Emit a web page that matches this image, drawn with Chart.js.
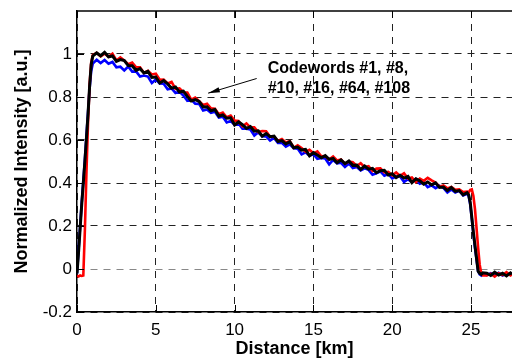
<!DOCTYPE html>
<html>
<head>
<meta charset="utf-8">
<script src="https://cdn.jsdelivr.net/npm/chart.js@4/dist/chart.umd.min.js"></script>
<style>
html,body{margin:0;padding:0;background:#fff;}
#wrap{width:512px;height:360px;}
</style>
</head>
<body>
<div id="wrap"><canvas id="c" width="512" height="360"></canvas></div>
<script>
// ---- data ----
const distanceKm = [0,0.1,0.2,0.3,0.4,0.5,0.6,0.7,0.8,0.9,1.0,
1.25,1.5,1.75,2,2.25,2.5,2.75,3,3.25,3.5,3.75,4,4.25,4.5,4.75,5,5.25,5.5,5.75,6,6.25,6.5,6.75,7,7.25,7.5,7.75,8,8.25,8.5,8.75,9,9.25,9.5,9.75,10,10.25,10.5,10.75,11,11.25,11.5,11.75,12,12.25,12.5,12.75,13,13.25,13.5,13.75,14,14.25,14.5,14.75,15,15.25,15.5,15.75,16,16.25,16.5,16.75,17,17.25,17.5,17.75,18,18.25,18.5,18.75,19,19.25,19.5,19.75,20,20.25,20.5,20.75,21,21.25,21.5,21.75,22,22.25,22.5,22.75,23,23.25,23.5,23.75,24,24.25,24.5,24.75,
24.85,24.95,25.05,25.15,25.25,25.35,25.45,25.55,25.65,25.75,
26,26.25,26.5,26.75,27,27.25,27.5,27.6];

const intensityBlack = [-0.02,0.08,0.19,0.30,0.40,0.50,0.61,0.72,0.85,0.95,0.99,
1.005,0.992,1.008,0.987,0.991,0.966,0.974,0.969,0.946,0.945,0.924,0.932,0.912,0.919,0.891,0.893,0.865,0.876,0.861,0.841,0.847,0.823,0.827,0.803,0.781,0.788,0.779,0.754,0.755,0.736,0.742,0.711,0.717,0.701,0.703,0.670,0.684,0.671,0.654,0.662,0.641,0.643,0.618,0.630,0.615,0.618,0.593,0.597,0.582,0.592,0.564,0.567,0.553,0.556,0.527,0.541,0.530,0.517,0.527,0.510,0.514,0.494,0.507,0.490,0.502,0.482,0.483,0.463,0.479,0.464,0.468,0.448,0.457,0.459,0.437,0.443,0.425,0.436,0.423,0.431,0.402,0.419,0.410,0.395,0.405,0.391,0.401,0.379,0.381,0.365,0.379,0.361,0.365,0.345,0.355,
0.345,0.31,0.24,0.17,0.11,0.05,-0.01,-0.02,-0.025,-0.018,
-0.02,-0.03,-0.015,-0.028,-0.02,-0.032,-0.018,-0.025];

const intensityRed = [-0.03,-0.035,-0.03,-0.032,-0.03,0.18,0.45,0.68,0.86,0.96,0.995,
1.005,0.989,1.002,0.987,1.001,0.970,0.984,0.970,0.953,0.960,0.938,0.938,0.912,0.922,0.905,0.908,0.880,0.881,0.863,0.870,0.838,0.840,0.822,0.821,0.788,0.797,0.781,0.763,0.769,0.747,0.745,0.720,0.728,0.706,0.714,0.690,0.688,0.664,0.677,0.659,0.659,0.637,0.642,0.641,0.615,0.617,0.596,0.605,0.589,0.595,0.564,0.575,0.563,0.546,0.554,0.538,0.547,0.524,0.525,0.509,0.523,0.505,0.510,0.490,0.500,0.497,0.479,0.492,0.474,0.478,0.456,0.467,0.468,0.449,0.452,0.436,0.449,0.433,0.445,0.421,0.426,0.404,0.420,0.410,0.424,0.412,0.402,0.383,0.389,0.375,0.382,0.368,0.370,0.358,0.360,
0.355,0.368,0.37,0.34,0.28,0.19,0.10,0.02,-0.02,-0.03,
-0.03,-0.022,-0.035,-0.02,-0.028,-0.015,-0.03,-0.025];

const intensityBlue = [-0.02,0.09,0.20,0.31,0.41,0.51,0.62,0.73,0.84,0.92,0.955,
0.973,0.958,0.972,0.955,0.963,0.938,0.941,0.924,0.942,0.918,0.919,0.895,0.900,0.895,0.865,0.881,0.863,0.862,0.836,0.840,0.819,0.825,0.807,0.783,0.788,0.769,0.768,0.737,0.742,0.726,0.731,0.704,0.708,0.682,0.688,0.671,0.677,0.652,0.652,0.649,0.621,0.636,0.618,0.617,0.597,0.610,0.586,0.587,0.569,0.580,0.562,0.560,0.533,0.543,0.527,0.534,0.512,0.516,0.514,0.487,0.507,0.491,0.494,0.475,0.491,0.470,0.474,0.458,0.468,0.461,0.439,0.445,0.454,0.434,0.442,0.421,0.430,0.430,0.405,0.418,0.403,0.418,0.397,0.403,0.381,0.389,0.376,0.387,0.377,0.356,0.370,0.356,0.364,0.342,0.350,
0.34,0.30,0.235,0.165,0.10,0.045,-0.01,-0.025,-0.03,-0.022,
-0.028,-0.02,-0.032,-0.018,-0.03,-0.022,-0.027,-0.02];

const xTickValues = [0,5,10,15,20,25];
const yTickValues = [-0.2,0,0.2,0.4,0.6,0.8,1];
const annotationLines = ['Codewords #1, #8,', '#10, #16, #64, #108'];

// ---- chart ----
const FONT = "'Liberation Sans', Arial, Helvetica, sans-serif";
const pts = arr => distanceKm.map((d,i)=>({x:d, y:arr[i]}));

const framePlugin = {
  id:'frame',
  afterDatasetsDraw(chart){
    const {ctx, chartArea:a, scales:{x, y}} = chart;
    ctx.save();
    // top border
    ctx.strokeStyle = '#000';
    ctx.lineWidth = 1.5;
    ctx.beginPath();
    ctx.moveTo(a.left, a.top); ctx.lineTo(a.right, a.top);
    ctx.stroke();
    // inward tick marks
    ctx.lineWidth = 1;
    ctx.beginPath();
    xTickValues.forEach(v=>{
      const px = Math.round(x.getPixelForValue(v))+0.5;
      ctx.moveTo(px, a.bottom); ctx.lineTo(px, a.bottom-7);
      ctx.moveTo(px, a.top); ctx.lineTo(px, a.top+7);
    });
    yTickValues.forEach(v=>{
      const py = Math.round(y.getPixelForValue(v))+0.5;
      ctx.moveTo(a.left, py); ctx.lineTo(a.left+7, py);
    });
    ctx.stroke();
    // annotation text
    ctx.fillStyle = '#000';
    ctx.font = 'bold 16px ' + FONT;
    ctx.textBaseline = 'middle';
    ctx.textAlign = 'left';
    const tx = x.getPixelForValue(12.1);
    const ty = y.getPixelForValue(0.934);
    annotationLines.forEach((t,i)=>ctx.fillText(t, tx, ty + i*20));
    // arrow
    const x0 = x.getPixelForValue(11.4), y0 = y.getPixelForValue(0.886);
    const x1 = x.getPixelForValue(8.32), y1 = y.getPixelForValue(0.818);
    ctx.lineWidth = 1;
    ctx.beginPath();
    ctx.moveTo(x0,y0); ctx.lineTo(x1,y1);
    ctx.stroke();
    const ang = Math.atan2(y1-y0, x1-x0);
    const L = 12, w = 0.22;
    ctx.beginPath();
    ctx.moveTo(x1,y1);
    ctx.lineTo(x1 - L*Math.cos(ang-w), y1 - L*Math.sin(ang-w));
    ctx.lineTo(x1 - L*Math.cos(ang+w), y1 - L*Math.sin(ang+w));
    ctx.closePath();
    ctx.fill();
    ctx.restore();
  }
};

const ds = (label, arr, color, w) => ({
  label, data: pts(arr), borderColor: color, backgroundColor: color,
  borderWidth: w, pointRadius: 0, tension: 0, fill: false
});

new Chart(document.getElementById('c'), {
  type: 'line',
  data: {
    datasets: [
      ds('Codeword (black)', intensityBlack, '#000000', 3),
      ds('Codeword (red)', intensityRed, '#ff0000', 2.6),
      ds('Codeword (blue)', intensityBlue, '#0000ff', 2.6)
    ]
  },
  options: {
    responsive: false,
    animation: false,
    events: [],
    layout: { padding: { left: 0, right: 0, top: 11, bottom: 0 } },
    plugins: { legend: { display: false }, tooltip: { enabled: false } },
    scales: {
      x: {
        type: 'linear', min: 0, max: 27.6,
        afterFit(s){ s.height = 48; s.paddingLeft = 0; s.paddingRight = 0; },
        afterBuildTicks(s){ s.ticks = xTickValues.map(v=>({value:v})); },
        grid: { color: '#222', lineWidth: 1, drawTicks: false },
        border: { display: true, color: '#000', width: 1.5, dash: [7,6] },
        ticks: { color: '#000', font: { family: FONT, size: 17 }, padding: 8, maxRotation: 0,
                 callback: v => String(v) },
        title: { display: true, text: 'Distance [km]', color: '#000',
                 font: { family: FONT, size: 18, weight: 'bold' }, padding: { top: 0, bottom: 0 } }
      },
      y: {
        type: 'linear', min: -0.2, max: 1.2,
        afterFit(s){ s.width = 77; s.paddingTop = 0; s.paddingBottom = 0; },
        afterBuildTicks(s){ s.ticks = yTickValues.map(v=>({value:v})); },
        grid: { color: c => (c.tick && Math.abs(c.tick.value) < 1e-9) ? '#888' : '#222', lineWidth: 1, drawTicks: false },
        border: { display: true, color: '#000', width: 1.5, dash: [7,6] },
        ticks: { color: '#000', font: { family: FONT, size: 17 }, padding: 5,
                 callback: v => String(Math.round(v*10)/10) },
        title: { display: true, text: 'Normalized Intensity [a.u.]', color: '#000',
                 font: { family: FONT, size: 18, weight: 'bold' }, padding: { top: 11, bottom: 0 } }
      }
    }
  },
  plugins: [framePlugin]
});
</script>
</body>
</html>
